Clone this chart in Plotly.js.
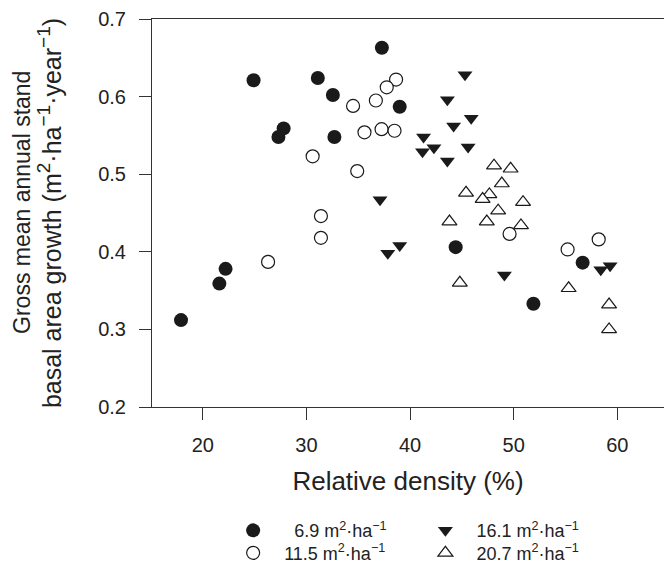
<!DOCTYPE html>
<html><head><meta charset="utf-8">
<script src="https://cdn.plot.ly/plotly-3.0.1.min.js"></script>
<style>body{margin:0;background:#fff}#chart{width:664px;height:567px}</style>
</head><body><div id="chart"></div>
<script>
// Relative density (%) and gross mean annual stand basal area growth
const labels = [
  "\u00a0\u00a06.9 m<sup>2</sup>·ha<sup>−1</sup>",
  "11.5 m<sup>2</sup>·ha<sup>−1</sup>",
  "16.1 m<sup>2</sup>·ha<sup>−1</sup>",
  "20.7 m<sup>2</sup>·ha<sup>−1</sup>"
];
const xTitle = 'Relative density (%)';
const yTitleLine1 = 'Gross mean annual stand';
const yTitleLine2 = 'basal area growth (m<sup><span style="font-size:19px">2</span></sup>·ha<sup><span style="font-size:19px">−1</span></sup>·year<sup><span style="font-size:19px">−1</span></sup>)';
const x69 = [37.28, 24.9, 31.1, 32.55, 39.0, 27.8, 27.3, 32.7, 22.2, 21.6, 17.9, 44.4, 56.65, 51.9];
const y69 = [0.663, 0.621, 0.624, 0.602, 0.587, 0.559, 0.548, 0.548, 0.378, 0.359, 0.312, 0.406, 0.386, 0.333];
const x115 = [38.65, 37.75, 36.7, 34.5, 35.6, 37.25, 38.5, 30.6, 34.9, 31.4, 31.4, 26.3, 49.6, 55.2, 58.2];
const y115 = [0.622, 0.612, 0.595, 0.588, 0.554, 0.558, 0.556, 0.523, 0.504, 0.446, 0.418, 0.387, 0.423, 0.403, 0.416];
const x161 = [37.1, 37.85, 39.0, 45.3, 43.6, 45.9, 44.2, 41.3, 41.2, 42.3, 45.6, 43.6, 58.4, 59.3, 49.1];
const y161 = [0.467, 0.398, 0.408, 0.628, 0.596, 0.572, 0.562, 0.548, 0.529, 0.534, 0.535, 0.517, 0.377, 0.382, 0.370];
const x207 = [48.1, 49.7, 48.85, 45.4, 47.65, 47.0, 50.9, 48.5, 43.8, 47.4, 50.7, 44.8, 55.3, 59.2, 59.2];
const y207 = [0.511, 0.507, 0.488, 0.476, 0.474, 0.468, 0.464, 0.453, 0.439, 0.439, 0.434, 0.360, 0.353, 0.332, 0.300];
const xTicks = [20, 30, 40, 50, 60];
const yTicks = [0.2, 0.3, 0.4, 0.5, 0.6, 0.7];

const FONT = 'Liberation Sans, Arial, sans-serif';
const ink = '#1a1a1a';
const traces = [
  {x: x69, y: y69, name: labels[0], legend: 'legend', type: 'scatter', mode: 'markers',
   marker: {symbol: 'circle', size: 14, color: ink, line: {width: 0}}},
  {x: x115, y: y115, name: labels[1], legend: 'legend2', type: 'scatter', mode: 'markers',
   marker: {symbol: 'circle', size: 13, color: '#fff', line: {width: 1.2, color: ink}}},
  {x: x161, y: y161, name: labels[2], legend: 'legend3', type: 'scatter', mode: 'markers',
   marker: {symbol: 'triangle-down', size: 13, color: ink, line: {width: 0}}},
  {x: x207, y: y207, name: labels[3], legend: 'legend4', type: 'scatter', mode: 'markers',
   marker: {symbol: 'triangle-up', size: 13, color: '#fff', line: {width: 1.2, color: ink}}}
];

function leg(x, y) {
  return {
    x: x, xanchor: 'left', y: y, yanchor: 'top', itemwidth: 52,
    font: {family: FONT, size: 18, color: '#222'},
    bgcolor: 'rgba(0,0,0,0)', borderwidth: 0
  };
}

const axisCommon = {
  showgrid: false, zeroline: false, showline: true, linecolor: '#333', linewidth: 1,
  ticks: 'outside', ticklen: 12, tickwidth: 1, tickcolor: '#333',
  tickfont: {family: FONT, size: 20, color: '#222'}
};

const layout = {
  width: 664, height: 567,
  margin: {l: 152, r: 0, t: 19, b: 160, pad: 0, autoexpand: false},
  paper_bgcolor: '#fff', plot_bgcolor: '#fff',
  font: {family: FONT, color: '#222'},
  showlegend: true,
  legend: leg(0.137, -0.271),
  legend2: leg(0.137, -0.329),
  legend3: leg(0.5125, -0.271),
  legend4: leg(0.5125, -0.329),
  xaxis: Object.assign({}, axisCommon, {
    range: [15.1, 64.5], tickvals: xTicks, mirror: true, ticklabelstandoff: 8,
    title: {text: xTitle, font: {size: 26, color: '#222'}, standoff: 16}
  }),
  yaxis: Object.assign({}, axisCommon, {
    range: [0.2, 0.7], tickvals: yTicks, tickformat: '.1f', ticklabelstandoff: 9
  }),
  annotations: [
    {text: yTitleLine1, textangle: -90, xref: 'paper', yref: 'paper',
     x: -0.255, xanchor: 'center', y: 0.527, yanchor: 'middle', showarrow: false,
     font: {family: FONT, size: 23, color: '#222'}},
    {text: yTitleLine2, textangle: -90, xref: 'paper', yref: 'paper',
     x: -0.201, xanchor: 'center', y: 0.5, yanchor: 'middle', showarrow: false,
     font: {family: FONT, size: 25, color: '#222'}}
  ]
};

Plotly.newPlot('chart', traces, layout, {displayModeBar: false, staticPlot: true});
</script>
</body></html>
